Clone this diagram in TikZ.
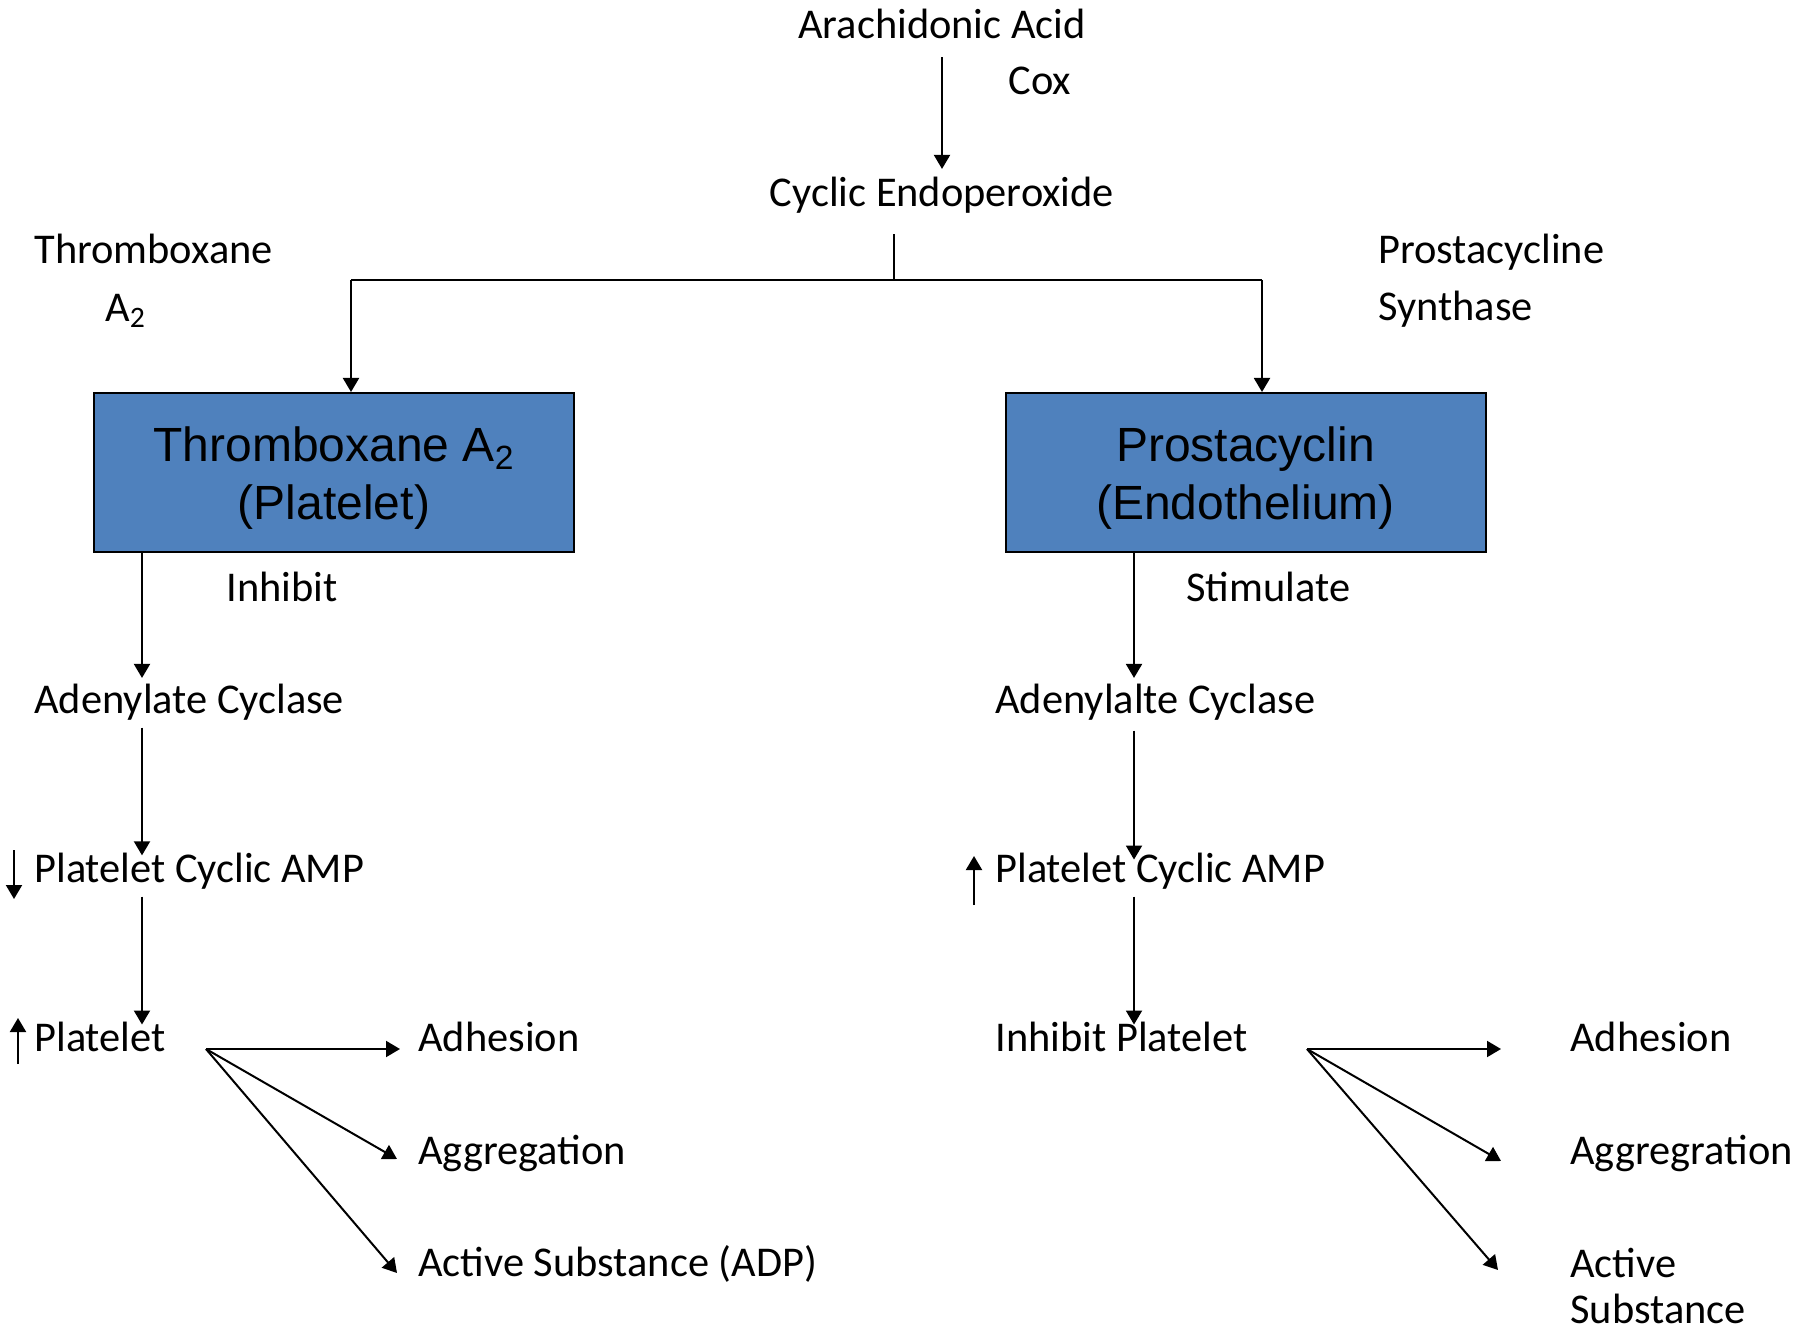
\documentclass[tikz,border=0pt]{standalone}
\usepackage{fontspec}
\setmainfont{Carlito}
\newfontfamily\boxfont{Liberation Sans}
\usetikzlibrary{arrows.meta}

\definecolor{BoxBlue}{HTML}{4F81BD}

\tikzset{
  txt/.style={inner sep=0pt, anchor=mid west, yshift=-4.5pt,
    font=\fontsize{21.2}{25}\selectfont},
  enzymebox/.style={draw=black, line width=1pt, fill=BoxBlue, inner sep=0pt,
    minimum width=240pt, minimum height=79.5pt},
  boxtxt/.style={inner sep=0pt, align=center,
    font=\boxfont\fontsize{24}{29}\selectfont},
  flow/.style={line width=1pt, -{Triangle[width=8pt,length=7pt]}},
  link/.style={line width=1pt},
}

\begin{document}
\begin{tikzpicture}[x=0.5pt,y=-0.5pt]
  \useasboundingbox (0,0) rectangle (1814,1326);

  % ===== Parámetros =====
  \coordinate (lcol) at (142,0);
  \coordinate (rcol) at (1134,0);
  \coordinate (split) at (894,280);
  \coordinate (lsplit) at (351,280);
  \coordinate (rsplit) at (1262,280);

  % ===== Arriba =====
  \node[txt,anchor=mid] (arach) at (942,25) {Arachidonic Acid};
  \node[txt] (cox) at (1008,81) {Cox};
  \node[txt,anchor=mid] (cyclic) at (942,193) {Cyclic Endoperoxide};

  \draw[flow, shorten <=9pt, shorten >=4pt] (arach.south) -- (cyclic.north);
  \draw[link, shorten <=10pt] (cyclic.south -| split) -- (split);
  \draw[link] (lsplit) -- (rsplit);

  \node[txt] (thxLbl) at (34,250) {Thromboxane};
  \node[txt] (thxSub) at (105,308) {A\textsubscript{2}};
  \node[txt] (pgsLbl) at (1378,250) {Prostacycline};
  \node[txt] (pgsSub) at (1378,307) {Synthase};

  % ===== Bloques =====
  \node[enzymebox] (tbox) at (334,472.5) {};
  \node[enzymebox] (pbox) at (1245.5,472.5) {};
  \node[boxtxt] (tboxTxt) at ([yshift=-3pt]tbox.center) {Thromboxane A\textsubscript{2}\\(Platelet)};
  \node[boxtxt] (pboxTxt) at ([yshift=-3pt]pbox.center) {Prostacyclin\\(Endothelium)};

  \draw[flow] (lsplit) -- (lsplit |- tbox.north);
  \draw[flow] (rsplit) -- (rsplit |- pbox.north);

  % ===== Izquierda =====
  \node[txt] (inhib) at (226,588) {Inhibit};
  \node[txt] (adcL) at (34,700) {Adenylate Cyclase};
  \node[txt] (pcaL) at (34,869) {Platelet Cyclic AMP};
  \node[txt] (platL) at (34,1038) {Platelet};

  \draw[flow, shorten >=3pt] (tbox.south -| lcol) -- (adcL.north -| lcol);
  \draw[flow, shorten <=3.3pt, shorten >=-1.2pt] (adcL.south -| lcol) -- (pcaL.north -| lcol);
  \draw[flow, shorten <=3.3pt, shorten >=-1.3pt] (pcaL.south -| lcol) -- (platL.north -| lcol);

  \draw[flow] ([shift={(-20,-28)}]pcaL.mid west) -- ++(0,49);
  \draw[flow] ([shift={(-16,17)}]platL.mid west) -- ++(0,-46);

  \coordinate (fanL) at (206,1049);
  \node[txt] (adhL) at (418,1038) {Adhesion};
  \node[txt] (aggL) at (418,1151) {Aggregation};
  \node[txt] (actL) at (418,1263) {Active Substance (ADP)};

  \foreach \t/\dx/\dy in {adhL/-18/2, aggL/-21/-1, actL/-21/1}{
    \draw[flow] (fanL) -- ([shift={(\dx,\dy)}]\t.mid west);
  }

  % ===== Derecha =====
  \node[txt] (stim) at (1186,588) {Stimulate};
  \node[txt] (adcR) at (995,700) {Adenylalte Cyclase};
  \node[txt] (pcaR) at (995,869) {Platelet Cyclic AMP};
  \node[txt] (platR) at (995,1038) {Inhibit Platelet};

  \draw[flow, shorten >=3pt] (pbox.south -| rcol) -- (adcR.north -| rcol);
  \draw[flow, shorten <=4.8pt, shorten >=-3.3pt] (adcR.south -| rcol) -- (pcaR.north -| rcol);
  \draw[flow, shorten <=3.3pt, shorten >=-1.3pt] (pcaR.south -| rcol) -- (platR.north -| rcol);

  \draw[flow] ([shift={(-21,27)}]pcaR.mid west) -- ++(0,-49);

  \coordinate (fanR) at (1307,1049);
  \node[txt] (adhR) at (1570,1038) {Adhesion};
  \node[txt] (aggR) at (1570,1151) {Aggregration};
  \node[txt, anchor=north west, align=left, font=\fontsize{21.2}{23}\selectfont]
    (actR) at (1570,1238.5) {Active\\Substance};

  \draw[flow] (fanR) -- ([shift={(-69,2)}]adhR.mid west);
  \draw[flow] (fanR) -- ([shift={(-69,1)}]aggR.mid west);
  \draw[flow] (fanR) -- ([shift={(-72,22.5)}]actR.north west);

\end{tikzpicture}
\end{document}
